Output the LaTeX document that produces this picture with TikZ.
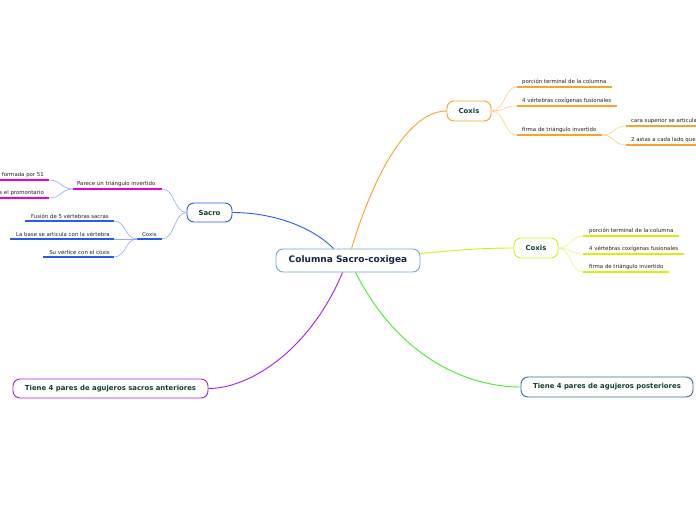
\documentclass[tikz,border=0pt]{standalone}
\usepackage{fontspec}
\usetikzlibrary{calc}
\setmainfont{DejaVu Sans}
\begin{document}
\begin{tikzpicture}[x=1pt,y=-1pt,
  topic/.style={draw, rounded corners=7pt, fill=white, line width=0.9pt, font=\fontsize{6.9}{8}\selectfont\bfseries, text=textgreen, inner xsep=0pt, inner ysep=0pt},
  sub/.style={font=\fontsize{5.4}{6}\selectfont, text=textgray, inner xsep=0pt, inner ysep=0pt, anchor=south west},
  uline/.style={line width=1.4pt},
  conn/.style={line width=0.9pt},
  sconn/.style={line width=0.6pt}]
\definecolor{textgreen}{HTML}{123E30}
\definecolor{textnavy}{HTML}{15244A}
\definecolor{textgray}{HTML}{222222}
\definecolor{cblue}{HTML}{2A5BF0}
\definecolor{lblue}{HTML}{8FAEF5}
\definecolor{cmag}{HTML}{F000D0}
\definecolor{corange}{HTML}{F7A428}
\definecolor{lorange}{HTML}{FDD08A}
\definecolor{cyellow}{HTML}{D8EE10}
\definecolor{lyellow}{HTML}{E9F580}
\definecolor{cgreen}{HTML}{4BEA2A}
\definecolor{cpurple}{HTML}{A020F0}
\definecolor{cteal}{HTML}{2A73A8}
\definecolor{clight}{HTML}{6FA8DC}
\useasboundingbox (0,0) rectangle (696,520);
\fill[white] (0,0) rectangle (696,520);

% main nodes
\node[topic, draw=clight, text=textnavy, font=\fontsize{9}{11}\selectfont\bfseries, minimum width=144pt, minimum height=23pt] (root) at (348,260.5) {Columna Sacro-coxigea};
\node[topic, draw=cblue, minimum width=45pt, minimum height=19pt] (sacro) at (209.5,212.5) {Sacro};
\node[topic, draw=corange, minimum width=44pt, minimum height=20pt] (cox1) at (469,111) {Coxis};
\node[topic, draw=cyellow, minimum width=44pt, minimum height=20pt] (cox2) at (536,248) {Coxis};
\node[topic, draw=cpurple, minimum width=195pt, minimum height=19pt] (ant) at (110.5,388.5) {Tiene 4 pares de agujeros sacros anteriores};
\node[topic, draw=cteal, minimum width=172pt, minimum height=20pt] (post) at (607,387) {Tiene 4 pares de agujeros posteriores};

\coordinate (r1) at ($(root.north west)+(58,0)$);
\coordinate (r2) at ($(root.north west)+(76,0)$);
\coordinate (r3) at ($(root.east)+(0,-7)$);
\coordinate (r4) at ($(root.south west)+(67,0)$);
\coordinate (r5) at ($(root.south west)+(80,0)$);

% main connectors
\draw[conn, cblue] (r1) .. controls (310,225) and (270,212.5) .. (sacro.east);
\draw[conn, corange] (r2) .. controls (375,170) and (410,111) .. (cox1.west);
\draw[conn, cyellow] (r3) .. controls (460,250) and (480,248) .. (cox2.west);
\draw[conn, cpurple] (r4) .. controls (310,350) and (250,388.5) .. (ant.east);
\draw[conn, cgreen] (r5) .. controls (400,360) and (470,387) .. (post.west);

% Sacro subtopics
\node[sub] (par) at (77,187) {Parece un triángulo invertido};
\draw[uline, cmag] (73,189) coordinate (parL) -- (162,189) coordinate (parR);
\draw[sconn, lblue] (sacro.west) .. controls (174,212.5) and (175,189) .. (parR);
\node[sub, anchor=south east] (f51) at (44,178) {formada por 51};
\draw[uline, cmag] (0,180) -- (49,180) coordinate (f51R);
\node[sub, anchor=south east] (prom) at (44,196) {s el promontario};
\draw[uline, cmag] (0,198) -- (49,198) coordinate (promR);
\draw[sconn, lblue] (parL) .. controls (61,189) and (61,180) .. (f51R);
\draw[sconn, lblue] (parL) .. controls (61,189) and (61,198) .. (promR);

\node[sub] (cx) at (142,237) {Coxis};
\draw[uline, cblue] (137,239) coordinate (cxL) -- (162,239) coordinate (cxR);
\draw[sconn, lblue] (sacro.west) .. controls (174,212.5) and (175,239) .. (cxR);
\node[sub, anchor=south east] (fus) at (109,219) {Fusión de 5 vértebras sacras};
\draw[uline, cblue] (25,221) -- (114,221) coordinate (fusR);
\node[sub, anchor=south east] (base) at (110,237) {La base se articula con la vértebra};
\draw[uline, cblue] (10,239) -- (114,239) coordinate (baseR);
\node[sub, anchor=south east] (vert) at (110,255) {Su vértice con el cóxis};
\draw[uline, cblue] (43,257) -- (114,257) coordinate (vertR);
\draw[sconn, lblue] (cxL) .. controls (125,239) and (126,221) .. (fusR);
\draw[sconn, lblue] (cxL) -- (baseR);
\draw[sconn, lblue] (cxL) .. controls (125,239) and (126,257) .. (vertR);

% Orange Coxis subtopics
\node[sub] (o1) at (522,85) {porción terminal de la columna};
\draw[uline, corange] (517,87) coordinate (o1L) -- (612,87);
\node[sub] (o2) at (522,104) {4 vértebras coxígenas fusionales};
\draw[uline, corange] (517,106) coordinate (o2L) -- (617,106);
\node[sub] (o3) at (522,133) {firma de triángulo invertido};
\draw[uline, corange] (517,135) coordinate (o3L) -- (602,135) coordinate (o3R);
\draw[sconn, lorange] (cox1.east) .. controls (505,111) and (504,87) .. (o1L);
\draw[sconn, lorange] (cox1.east) .. controls (505,111) and (504,106) .. (o2L);
\draw[sconn, lorange] (cox1.east) .. controls (505,111) and (504,135) .. (o3L);
\node[sub] (o31) at (631,124) {cara superior se articula};
\draw[uline, corange] (626,126) coordinate (o31L) -- (700,126);
\node[sub] (o32) at (631,143) {2 astas a cada lado que};
\draw[uline, corange] (626,145) coordinate (o32L) -- (700,145);
\draw[sconn, lorange] (o3R) .. controls (614,135) and (614,126) .. (o31L);
\draw[sconn, lorange] (o3R) .. controls (614,135) and (614,145) .. (o32L);

% Yellow Coxis subtopics
\node[sub] (y1) at (589,234) {porción terminal de la columna};
\draw[uline, cyellow] (583,236) coordinate (y1L) -- (679,236);
\node[sub] (y2) at (589,252) {4 vértebras coxígenas fusionales};
\draw[uline, cyellow] (583,254) coordinate (y2L) -- (684,254);
\node[sub] (y3) at (589,270) {firma de triángulo invertido};
\draw[uline, cyellow] (583,272) coordinate (y3L) -- (669,272);
\draw[sconn, lyellow] (cox2.east) .. controls (571,248) and (570,236) .. (y1L);
\draw[sconn, lyellow] (cox2.east) .. controls (571,248) and (570,254) .. (y2L);
\draw[sconn, lyellow] (cox2.east) .. controls (571,248) and (570,272) .. (y3L);
\end{tikzpicture}
\end{document}
